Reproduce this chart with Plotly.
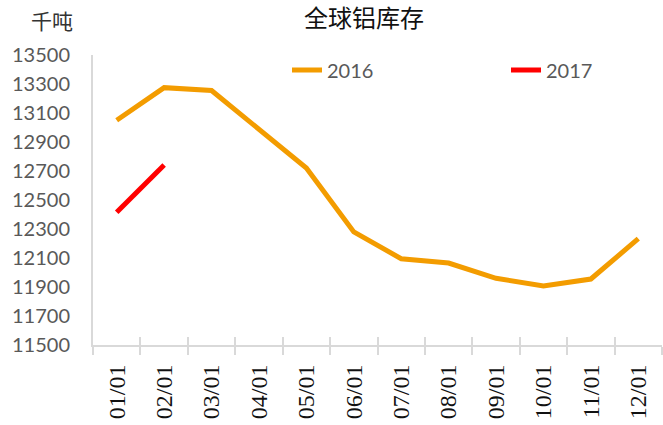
import plotly.graph_objects as go

categories = ["01/01", "02/01", "03/01", "04/01", "05/01", "06/01",
              "07/01", "08/01", "09/01", "10/01", "11/01", "12/01"]
values_2016 = [13050, 13275, 13255, 12985, 12720, 12280,
               12095, 12065, 11960, 11907, 11955, 12233]
values_2017 = [12415, 12741]
y_ticks = [11500, 11700, 11900, 12100, 12300, 12500, 12700, 12900, 13100, 13300, 13500]
y_ticktext = [str(v) for v in y_ticks]

fig = go.Figure()
fig.add_trace(go.Scatter(x=categories, y=values_2016, mode="lines", name="2016",
                         line=dict(color="#F39C00", width=5), legend="legend"))
fig.add_trace(go.Scatter(x=categories[:len(values_2017)], y=values_2017, mode="lines", name="2017",
                         line=dict(color="#FF0000", width=5), legend="legend2"))
# helper trace for inner tick marks on overlay axis
fig.add_trace(go.Scatter(x=categories, y=values_2016, mode="lines", xaxis="x2",
                         line=dict(width=0, color="rgba(0,0,0,0)"), showlegend=False,
                         hoverinfo="skip"))

legend_font = dict(family="Lato", size=20, color="#595959")
fig.update_layout(
    width=663, height=425,
    margin=dict(l=93, r=1, t=55, b=80, autoexpand=False),
    plot_bgcolor="white", paper_bgcolor="white",
    font=dict(family="Lato, Noto Sans CJK SC", color="#595959"),
    title=dict(text="全球铝库存", x=364/663, xanchor="center", y=1 - 19/425, yanchor="middle",
               font=dict(family="Noto Sans CJK SC", size=24, color="#111111")),
    showlegend=True,
    legend=dict(orientation="h", x=(287-93)/569, xanchor="left", y=(345-70)/290, yanchor="middle",
                font=legend_font, bgcolor="rgba(0,0,0,0)"),
    legend2=dict(orientation="h", x=(506-93)/569, xanchor="left", y=(345-70)/290, yanchor="middle",
                 font=legend_font, bgcolor="rgba(0,0,0,0)"),
    xaxis=dict(type="category", categoryorder="array", categoryarray=categories,
               range=[-0.5, 11.5], showgrid=False, showline=True, linecolor="#D9D9D9", linewidth=2,
               ticks="outside", ticklen=8, tickwidth=2, tickcolor="#D9D9D9", tickson="boundaries",
               tickangle=-90, automargin=False,
               tickfont=dict(family="Liberation Serif, DejaVu Serif, serif", size=24, color="#111111"),
               ticklabelstandoff=8),
    xaxis2=dict(type="category", categoryorder="array", categoryarray=categories,
                range=[-0.5, 11.5], overlaying="x", anchor="y", side="bottom",
                showgrid=False, showline=False, showticklabels=False, automargin=False,
                ticks="inside", ticklen=8, tickwidth=2, tickcolor="#D9D9D9", tickson="boundaries"),
    yaxis=dict(range=[11500, 13500], tickvals=y_ticks, ticktext=y_ticktext, showgrid=False,
               zeroline=False, automargin=False,
               showline=True, linecolor="#D9D9D9", linewidth=2, ticks="",
               tickfont=dict(family="Lato", size=20, color="#595959"), ticklabelstandoff=17),
    annotations=[dict(text="千吨", xref="paper", yref="paper", x=(29-93)/569, xanchor="left",
                      y=1 + 35/290, yanchor="middle", showarrow=False,
                      font=dict(family="Noto Sans CJK SC", size=21, color="#333333"))],
)

fig.write_html("out.html", config={"displayModeBar": False},
               post_script="document.body.style.margin='0';")
